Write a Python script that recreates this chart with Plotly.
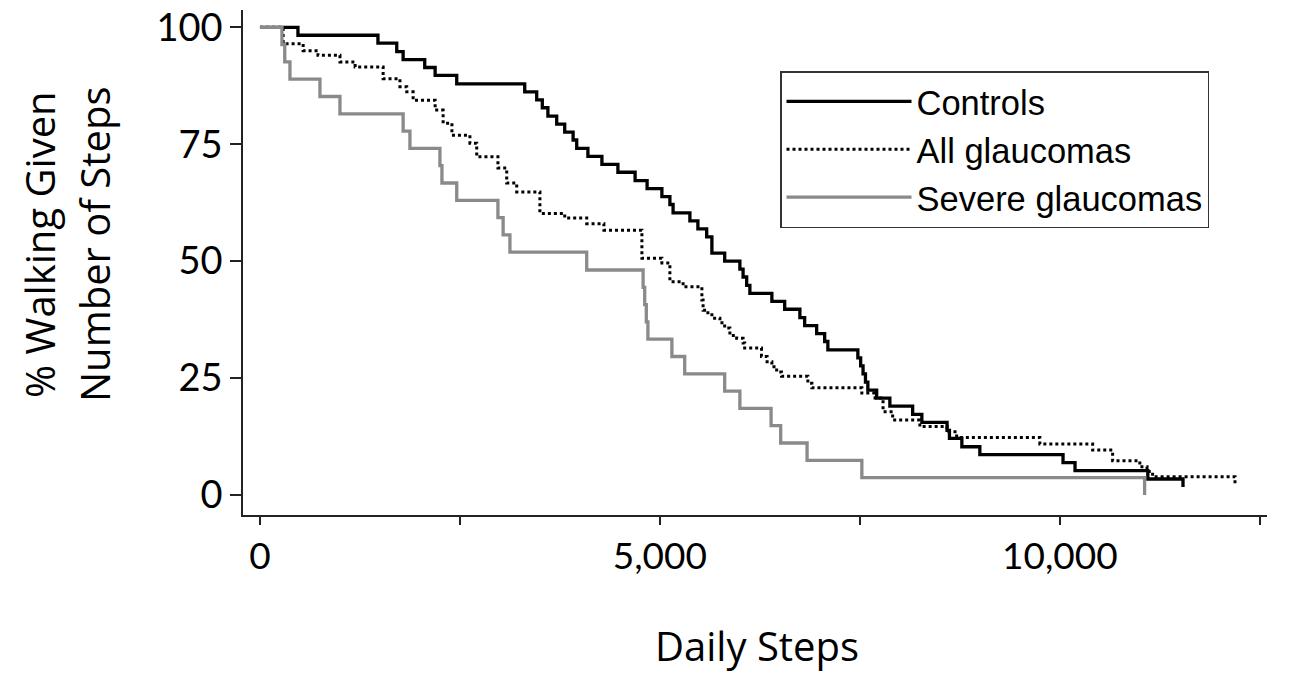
import plotly.graph_objects as go

# Step-change points (x where the curve changes, new % value)
controls_x = [0, 475, 1475, 1710, 1790, 2060, 2190, 2460, 3310, 3460, 3530, 3600, 3710, 3810,
              3915, 3960, 4100, 4275, 4475, 4690, 4840, 5025, 5125, 5165, 5375, 5475, 5585,
              5650, 5810, 6000, 6040, 6085, 6125, 6400, 6560, 6750, 6810, 6960, 7060, 7100,
              7475, 7510, 7540, 7570, 7600, 7710, 7875, 8160, 8275, 8590, 8620, 8775, 9000,
              10040, 10190, 11100, 11540]
controls_y = [100, 98.3, 96.6, 94.8, 93.1, 91.4, 89.7, 87.9, 86.2, 84.5, 82.8, 81.0, 79.3, 77.6,
              75.9, 74.1, 72.4, 70.7, 69.0, 67.2, 65.5, 63.8, 62.1, 60.3, 58.6, 56.9, 55.2,
              51.7, 50.0, 48.3, 46.6, 44.8, 43.1, 41.4, 39.7, 37.9, 36.2, 34.5, 32.8, 31.0,
              29.3, 27.6, 25.9, 24.1, 22.4, 20.7, 19.0, 17.2, 15.5, 13.8, 12.1, 10.3, 8.6,
              6.9, 5.2, 3.4, 1.7]

allg_x = [0, 290, 540, 725, 1000, 1190, 1540, 1750, 1835, 1915, 2190, 2290, 2400, 2625, 2710,
          2975, 3085, 3210, 3500, 3810, 4085, 4300, 4775, 5025, 5125, 5290, 5525, 5540, 5600,
          5650, 5750, 5810, 5875, 5960, 6040, 6060, 6270, 6340, 6400, 6460, 6520, 6850, 6900,
          7525, 7690, 7790, 7910, 8250, 8590, 8710, 9750, 10410, 10660, 11000, 11090, 11160,
          12190, 12220]
allg_y = [100, 96.5, 95.0, 94.0, 92.6, 91.5, 89.0, 87.3, 86.2, 84.4, 82.3, 79.5, 76.9, 75.2, 72.3,
          69.9, 66.7, 64.8, 60.2, 59.2, 58.0, 56.6, 50.6, 49.6, 45.6, 44.5, 41.7, 39.5, 38.5,
          37.8, 36.8, 35.7, 34.1, 33.5, 32.5, 31.4, 29.6, 28.5, 27.4, 26.3, 25.4, 23.9, 22.9,
          21.8, 20.7, 17.8, 16.0, 14.6, 13.5, 12.3, 10.9, 9.6, 7.3, 6.0, 5.0, 3.9,
          2.8, 2.8]

severe_x = [0, 275, 310, 375, 750, 1000, 1790, 1875, 2250, 2275, 2460, 2975, 3040, 3125, 4085,
            4790, 4810, 4830, 4850, 5150, 5310, 5810, 6000, 6390, 6510, 6840, 7525, 11060]
severe_y = [100, 96.3, 92.6, 88.9, 85.2, 81.5, 77.8, 74.1, 70.4, 66.7, 63.0, 59.3, 55.6, 51.9, 48.1,
            44.4, 40.7, 37.0, 33.3, 29.6, 25.9, 22.2, 18.5, 14.8, 11.1, 7.4, 3.7, 0]

series_names = ["Controls", "All glaucomas", "Severe glaucomas"]

x_tickvals = [0, 2500, 5000, 7500, 10000, 12500]
x_ticktext = ["0", "", "5,000", "", "10,000", ""]
y_tickvals = [0, 25, 50, 75, 100]

TICK_FONT = "Lato, 'Open Sans', sans-serif"
TITLE_FONT = "'Open Sans', Lato, sans-serif"
LEG_FONT = "'Liberation Sans', Arial, sans-serif"

fig = go.Figure()
fig.add_trace(go.Scatter(x=controls_x, y=controls_y, mode="lines", name=series_names[0],
                         line=dict(color="black", width=3.3, shape="hv"), legendgroup="a"))
fig.add_trace(go.Scatter(x=allg_x, y=allg_y, mode="lines", name=series_names[1],
                         line=dict(color="black", width=3, dash="dot", shape="hv"), legendgroup="b"))
fig.add_trace(go.Scatter(x=severe_x, y=severe_y, mode="lines", name=series_names[2],
                         line=dict(color="#8a8a8a", width=3.3, shape="hv"), legendgroup="c"))

# body margin is removed by the post script, so the figure fills the page
W, H = 1292, 673
PL, PR, PT, PB = 243, 1267, 10, 515  # plot area in page pixels
pw, ph = PR - PL, PB - PT

def px2x(px):
    return (px - PL) / pw

def py2y(py):
    return (PB - py) / ph

fig.update_layout(
    width=W, height=H,
    margin=dict(l=PL, r=W - PR, t=PT, b=H - PB, autoexpand=False),
    plot_bgcolor="white", paper_bgcolor="white",
    showlegend=True,
    legend=dict(
        x=px2x(780), y=py2y(71), xanchor="left", yanchor="top",
        bgcolor="white", bordercolor="#333333", borderwidth=1.5,
        font=dict(family=LEG_FONT, size=34.5, color="black"),
        traceorder="grouped", tracegroupgap=0, itemwidth=125,
    ),
    xaxis=dict(
        range=[-212, 12590], tickvals=x_tickvals, ticktext=x_ticktext,
        showgrid=False, zeroline=False, showline=True, linecolor="#222222", linewidth=1.5,
        ticks="outside", ticklen=8, tickwidth=1.5, tickcolor="#222222",
        tickfont=dict(family=TICK_FONT, size=37, color="black"),
        ticklabelstandoff=0, automargin=False, ticklabeloverflow="allow",
    ),
    yaxis=dict(
        range=[-4.3, 103.7], tickvals=y_tickvals,
        showgrid=False, zeroline=False, showline=True, linecolor="#222222", linewidth=1.5,
        ticks="outside", ticklen=11, tickwidth=1.5, tickcolor="#222222",
        tickfont=dict(family=TICK_FONT, size=38, color="black"),
        automargin=False, ticklabeloverflow="allow",
    ),
    annotations=[
        dict(text="% Walking Given", x=px2x(40), y=py2y(245),
             xref="paper", yref="paper", showarrow=False, textangle=-90,
             font=dict(family=TITLE_FONT, size=40, color="black"), xanchor="center", yanchor="middle"),
        dict(text="Number of Steps", x=px2x(95), y=py2y(245),
             xref="paper", yref="paper", showarrow=False, textangle=-90,
             font=dict(family=TITLE_FONT, size=40, color="black"), xanchor="center", yanchor="middle"),
        dict(text="Daily Steps", x=px2x(757), y=py2y(645),
             xref="paper", yref="paper", showarrow=False,
             font=dict(family=TITLE_FONT, size=40, color="black"), xanchor="center", yanchor="middle"),
    ],
)

fig.write_html(
    "out.html",
    config={"displayModeBar": False},
    post_script="document.body.style.margin='0px';document.body.style.overflow='hidden';",
)
